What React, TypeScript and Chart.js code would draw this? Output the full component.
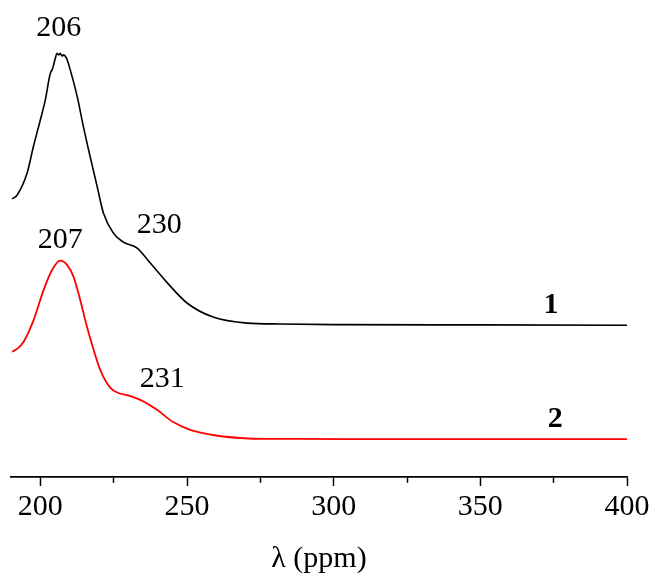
import React, { useEffect, useRef } from "react";
import { Chart, registerables } from "chart.js";

Chart.register(...registerables);

// Wavelength (x) and absorbance-like intensity (y)
const curve1X = [190.4, 192.1, 195.5, 197.6, 200, 201.7, 203.4, 204, 204.5, 205.1, 205.7, 206.2, 206.8, 207.4, 207.9, 208.9, 210.2, 212.6, 214.7, 217, 219.4, 221.5, 224.9, 228.3, 233, 237.5, 243.3, 250, 258.9, 270.5, 281.8, 300, 350, 400];
const curve1Y = [0.927, 0.94, 1.013, 1.1, 1.19, 1.257, 1.346, 1.357, 1.373, 1.396, 1.412, 1.407, 1.412, 1.403, 1.407, 1.396, 1.357, 1.267, 1.167, 1.067, 0.967, 0.88, 0.813, 0.783, 0.763, 0.713, 0.647, 0.58, 0.533, 0.513, 0.51, 0.508, 0.507, 0.506];

const curve2X = [190.4, 192.1, 194.3, 197.7, 201.1, 204, 206.8, 209.1, 211.3, 213.6, 215.9, 218.2, 220.4, 223.9, 226.6, 229.6, 234.1, 239.9, 245.3, 251.1, 258.9, 268.1, 277.3, 288.6, 320, 400];
const curve2Y = [0.418, 0.427, 0.451, 0.523, 0.623, 0.69, 0.721, 0.707, 0.668, 0.59, 0.501, 0.423, 0.357, 0.297, 0.28, 0.273, 0.257, 0.223, 0.183, 0.157, 0.14, 0.13, 0.127, 0.127, 0.126, 0.126];

const xTicks = [200, 225, 250, 275, 300, 325, 350, 375, 400];
const labeledTicks = [200, 250, 300, 350, 400];

// Annotation texts (placed in data coordinates)
const annoText = ["206", "230", "207", "231", "1", "2"];
const annoX = [206.3, 240.5, 206.8, 241.6, 374.1, 375.5];
const annoY = [1.47, 0.813, 0.763, 0.3, 0.547, 0.167];
const annoBold = [false, false, false, false, true, true];

const FONT = '"Liberation Serif", "Times New Roman", serif';

const annotationPlugin = {
  id: "peakLabels",
  afterDatasetsDraw(chart: any) {
    const ctx = chart.ctx;
    const xs = chart.scales.x;
    const ys = chart.scales.y;
    ctx.save();
    ctx.fillStyle = "#000";
    ctx.textAlign = "center";
    ctx.textBaseline = "alphabetic";
    for (let i = 0; i < annoText.length; i++) {
      ctx.font = `${annoBold[i] ? "bold " : ""}30px ${FONT}`;
      ctx.fillText(annoText[i], xs.getPixelForValue(annoX[i]), ys.getPixelForValue(annoY[i]));
    }
    ctx.restore();
  },
};

export default function App() {
  const ref = useRef<HTMLCanvasElement | null>(null);
  useEffect(() => {
    if (!ref.current) return;
    const chart = new Chart(ref.current, {
      type: "line",
      data: {
        datasets: [
          {
            label: "1",
            data: curve1X.map((x, i) => ({ x, y: curve1Y[i] })),
            borderColor: "#000000",
            borderWidth: 1.6,
            pointRadius: 0,
            cubicInterpolationMode: "monotone",
            fill: false,
          },
          {
            label: "2",
            data: curve2X.map((x, i) => ({ x, y: curve2Y[i] })),
            borderColor: "#ff0000",
            borderWidth: 1.8,
            pointRadius: 0,
            cubicInterpolationMode: "monotone",
            fill: false,
          },
        ],
      },
      options: {
        animation: false,
        responsive: false,
        layout: { padding: { left: 11, right: 28, top: 27, bottom: 0 } },
        plugins: { legend: { display: false }, tooltip: { enabled: false } },
        scales: {
          x: {
            type: "linear",
            min: 190,
            max: 400,
            afterBuildTicks: (scale: any) => {
              scale.ticks = xTicks.map((v) => ({ value: v }));
            },
            afterFit: (scale: any) => {
              scale.height = 100;
            },
            ticks: {
              autoSkip: false,
              maxRotation: 0,
              padding: 3,
              color: "#000",
              font: { family: FONT, size: 30 },
              callback: (v: any) => (labeledTicks.includes(Number(v)) ? String(v) : ""),
            },
            grid: {
              drawOnChartArea: false,
              drawTicks: true,
              tickLength: 9,
              tickColor: "#000",
              tickWidth: 1.5,
              tickBorderDash: (ctx: any) =>
                ctx.tick && labeledTicks.includes(ctx.tick.value) ? [] : [5, 100],
            },
            border: { display: true, color: "#000", width: 1.8 },
            title: {
              display: true,
              text: "λ (ppm)",
              color: "#000",
              font: { family: FONT, size: 30 },
              padding: { top: 0, bottom: 0 },
            },
          },
          y: {
            display: false,
            min: 0,
            max: 1.5,
          },
        },
      },
      plugins: [annotationPlugin],
    });
    return () => chart.destroy();
  }, []);
  return (
    <div style={{ position: "absolute", left: 0, top: 0, width: 655, height: 577, background: "#fff" }}>
      <canvas ref={ref} width={655} height={577} style={{ display: "block" }} />
    </div>
  );
}
